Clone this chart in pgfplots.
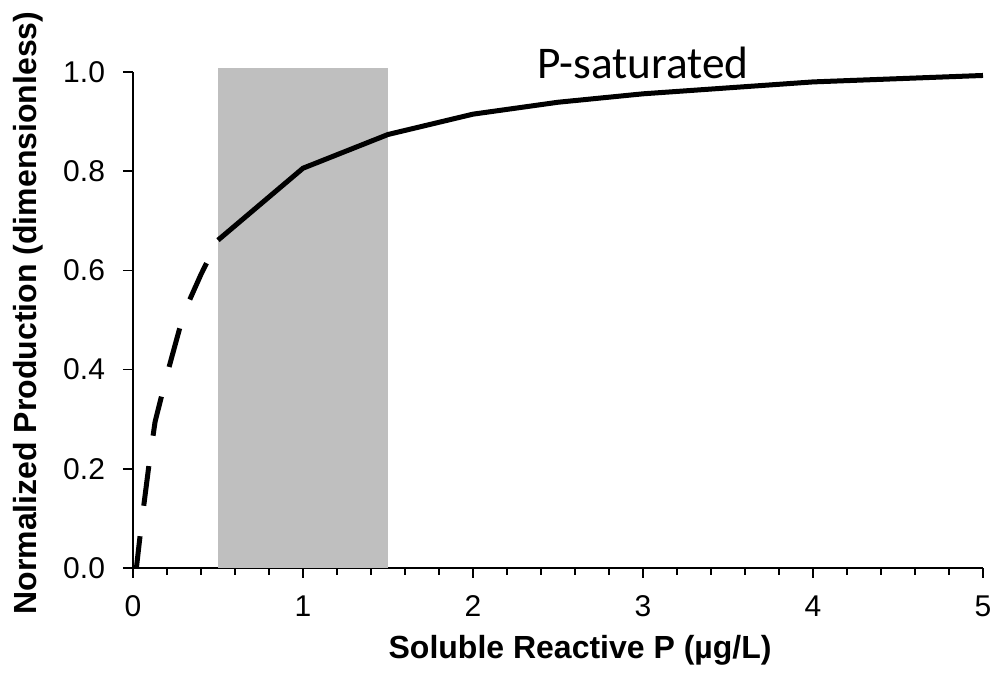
\documentclass[border=0pt]{standalone}
\usepackage{fontspec}
\setmainfont{Liberation Sans}
\newfontfamily\calibri{Carlito}
\usepackage{pgfplots}
\pgfplotsset{compat=1.18}
\definecolor{shade}{RGB}{191,191,191}
\begin{document}
\begin{tikzpicture}
\useasboundingbox (-99.75pt,-78.75pt) rectangle (646.5pt,426pt);
\begin{axis}[
  at={(0,0)}, anchor=south west,
  scale only axis, width=637.5pt, height=372pt,
  xmin=0, xmax=5, ymin=0, ymax=1,
  clip=false,
  axis x line*=bottom, axis y line*=left,
  axis line style={-, line width=1.1pt},
  tick align=outside,
  major tick length=7.5pt, minor tick length=5pt,
  tick style={line width=1.1pt, black},
  xtick={0,1,2,3,4,5}, minor x tick num=4,
  ytick={0,0.2,0.4,0.6,0.8,1.0},
  y tick label style={/pgf/number format/fixed, /pgf/number format/fixed zerofill, /pgf/number format/precision=1, xshift=-10pt},
  /pgf/number format/assume math mode=true,
  tick label style={font=\fontsize{22.5}{26}\selectfont},
  x tick label style={yshift=-10pt},
  xlabel={\textbf{Soluble Reactive P (µg/L)}},
  ylabel={\textbf{Normalized Production (dimensionless)}},
  label style={font=\fontsize{24}{28}\selectfont},
  xlabel style={at={(axis description cs:0.526,-0.1653)}, anchor=center},
  ylabel style={at={(axis description cs:-0.1235,0.514)}, anchor=center},
]
\addplot[fill=shade, draw=none] coordinates {(0.5,0) (0.5,1.008) (1.5,1.008) (1.5,0)} -- cycle;
\addplot[black, line width=3.75pt, line join=round, dash pattern=on 30pt off 23pt, dash phase=6pt] coordinates {
  (0.02,0) (0.05,0.09) (0.1,0.224) (0.13,0.295) (0.2,0.39) (0.3,0.515) (0.4,0.592) (0.5,0.661)
};
\addplot[black, line width=3.75pt, line join=round] coordinates {
  (0.5,0.661) (1,0.806) (1.5,0.874) (2,0.915) (2.5,0.939) (3,0.956) (3.5,0.968) (4,0.980) (5,0.993)
};
\node[font=\calibri\fontsize{34}{40}\selectfont, anchor=center] at (axis cs:3.0,1.018) {P-saturated};
\end{axis}
\end{tikzpicture}
\end{document}
